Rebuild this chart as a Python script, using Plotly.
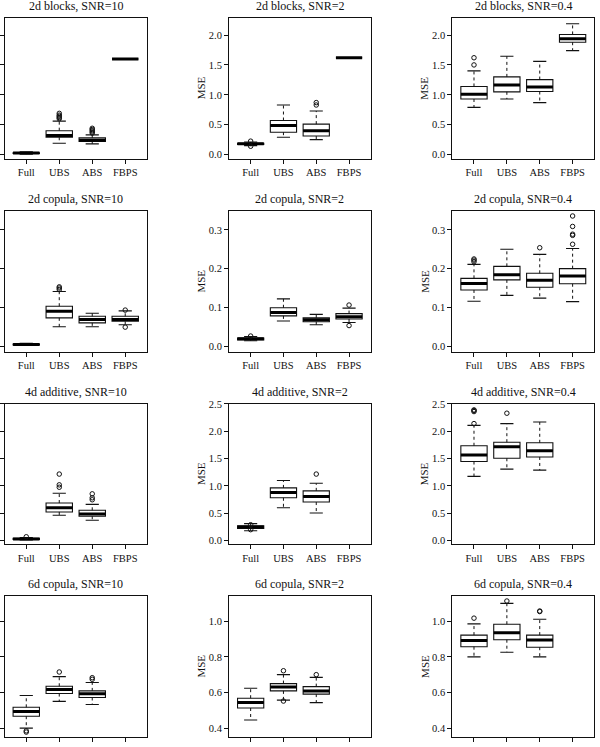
import plotly.graph_objects as go

methods = ["Full", "UBS", "ABS", "FBPS"]

# Five-number summaries per method: [lower whisker, Q1, median, Q3, upper whisker]; None = no data
blocks_10 = [[0.008, 0.018, 0.025, 0.032, 0.045],
             [0.19, 0.29, 0.32, 0.40, 0.56],
             [0.18, 0.22, 0.24, 0.28, 0.33],
             [1.60, 1.60, 1.60, 1.60, 1.60]]
blocks_10_out = [[], [0.60, 0.62, 0.64, 0.66, 0.69], [0.36, 0.38, 0.40, 0.42, 0.44], []]

blocks_2 = [[0.15, 0.17, 0.18, 0.19, 0.21],
            [0.29, 0.375, 0.485, 0.57, 0.83],
            [0.25, 0.31, 0.40, 0.51, 0.73],
            [1.62, 1.62, 1.62, 1.62, 1.62]]
blocks_2_out = [[0.225, 0.14], [], [0.83, 0.87], []]

blocks_04 = [[0.79, 0.93, 1.01, 1.14, 1.40],
             [0.93, 1.05, 1.165, 1.30, 1.645],
             [0.87, 1.055, 1.13, 1.255, 1.56],
             [1.74, 1.88, 1.94, 2.01, 2.19]]
blocks_04_out = [[1.50, 1.62], [], [], []]

copula2d_10 = [[0.002, 0.003, 0.004, 0.005, 0.007],
               [0.050, 0.073, 0.090, 0.103, 0.141],
               [0.050, 0.060, 0.069, 0.077, 0.085],
               [0.055, 0.064, 0.069, 0.077, 0.091]]
copula2d_10_out = [[], [0.146, 0.150, 0.153], [], [0.093, 0.049]]

copula2d_2 = [[0.014, 0.016, 0.019, 0.021, 0.025],
              [0.065, 0.078, 0.087, 0.099, 0.122],
              [0.055, 0.063, 0.068, 0.073, 0.082],
              [0.061, 0.070, 0.076, 0.084, 0.098]]
copula2d_2_out = [[0.026], [], [], [0.106, 0.053]]

copula2d_04 = [[0.116, 0.145, 0.162, 0.175, 0.211],
               [0.131, 0.171, 0.184, 0.206, 0.250],
               [0.124, 0.152, 0.170, 0.188, 0.237],
               [0.115, 0.161, 0.181, 0.200, 0.252]]
copula2d_04_out = [[0.218, 0.222, 0.225], [], [0.254], [0.263, 0.286, 0.289, 0.309, 0.336]]

additive_10 = [[0.012, 0.020, 0.030, 0.040, 0.054],
               [0.464, 0.524, 0.602, 0.687, 0.867],
               [0.373, 0.446, 0.488, 0.554, 0.663],
               None]
additive_10_out = [[0.07], [0.976, 1.02, 1.217], [0.747, 0.783, 0.855], []]

additive_2 = [[0.18, 0.22, 0.247, 0.27, 0.31],
              [0.60, 0.783, 0.88, 0.964, 1.10],
              [0.506, 0.705, 0.807, 0.91, 1.048],
              None]
additive_2_out = [[0.29, 0.20], [], [1.217], []]

additive_04 = [[1.175, 1.446, 1.566, 1.735, 2.108],
               [1.307, 1.506, 1.717, 1.80, 2.139],
               [1.289, 1.53, 1.645, 1.789, 2.169],
               None]
additive_04_out = [[2.14, 2.36, 2.38, 2.39], [2.33], [], []]

copula6d_10 = [[0.40, 0.467, 0.493, 0.517, 0.583],
               [0.55, 0.594, 0.617, 0.635, 0.689],
               [0.533, 0.572, 0.593, 0.609, 0.656],
               None]
copula6d_10_out = [[0.385, 0.378], [0.715], [0.674, 0.683], []]

copula6d_2 = [[0.446, 0.513, 0.544, 0.568, 0.624],
              [0.557, 0.609, 0.631, 0.65, 0.70],
              [0.543, 0.591, 0.609, 0.633, 0.685],
              None]
copula6d_2_out = [[], [0.722, 0.552], [0.70], []]

copula6d_04 = [[0.80, 0.857, 0.891, 0.922, 0.985],
               [0.826, 0.896, 0.935, 0.983, 1.10],
               [0.80, 0.854, 0.894, 0.922, 1.011],
               None]
copula6d_04_out = [[1.017], [1.113], [1.054, 1.057], []]

titles = ["2d blocks, SNR=10", "2d blocks, SNR=2", "2d blocks, SNR=0.4",
          "2d copula, SNR=10", "2d copula, SNR=2", "2d copula, SNR=0.4",
          "4d additive, SNR=10", "4d additive, SNR=2", "4d additive, SNR=0.4",
          "6d copula, SNR=10", "6d copula, SNR=2", "6d copula, SNR=0.4"]

row_ranges = [[-0.066, 2.282], [-0.0145, 0.348], [-0.066, 2.50], [0.35, 1.1406]]
row_ticks = [[0, 0.5, 1.0, 1.5, 2.0], [0.0, 0.1, 0.2, 0.3],
             [0, 0.5, 1.0, 1.5, 2.0, 2.5], [0.4, 0.6, 0.8, 1.0]]

panels = [(blocks_10, blocks_10_out), (blocks_2, blocks_2_out), (blocks_04, blocks_04_out),
          (copula2d_10, copula2d_10_out), (copula2d_2, copula2d_2_out), (copula2d_04, copula2d_04_out),
          (additive_10, additive_10_out), (additive_2, additive_2_out), (additive_04, additive_04_out),
          (copula6d_10, copula6d_10_out), (copula6d_2, copula6d_2_out), (copula6d_04, copula6d_04_out)]

W, H = 600, 747
col_px = [(4.5, 147.0), (229.0, 370.7), (452.3, 594.3)]
row_px = [(13.3, 155.0), (208.3, 350.0), (402.7, 544.3), (596.7, 739.0)]

FONT = "Liberation Serif"
INK = "#111111"
BOXW = 0.8

fig = go.Figure()
annotations = []
layout_axes = {}

for k, (stats, outs) in enumerate(panels):
    r, c = divmod(k, 3)
    xs = "x" if k == 0 else f"x{k+1}"
    ys = "y" if k == 0 else f"y{k+1}"
    xl = "xaxis" if k == 0 else f"xaxis{k+1}"
    yl = "yaxis" if k == 0 else f"yaxis{k+1}"
    x0, x1 = col_px[c]
    t, b = row_px[r]

    pos = [i + 1 for i, s in enumerate(stats) if s is not None]
    ss = [s for s in stats if s is not None]

    fig.add_trace(go.Box(
        x=pos, q1=[s[1] for s in ss], median=[s[2] for s in ss], q3=[s[3] for s in ss],
        lowerfence=[s[1] for s in ss], upperfence=[s[3] for s in ss],
        width=BOXW, whiskerwidth=0, boxpoints=False,
        line=dict(color=INK, width=1.1), fillcolor="white",
        xaxis=xs, yaxis=ys, showlegend=False, hoverinfo="skip"))

    wx, wy, cx, cy, mx, my = [], [], [], [], [], []
    for p, s in zip(pos, ss):
        lo, q1, med, q3, hi = s
        wx += [p, p, None, p, p, None]
        wy += [q3, hi, None, q1, lo, None]
        cx += [p - BOXW / 4, p + BOXW / 4, None, p - BOXW / 4, p + BOXW / 4, None]
        cy += [hi, hi, None, lo, lo, None]
        mx += [p - BOXW / 2, p + BOXW / 2, None]
        my += [med, med, None]
    fig.add_trace(go.Scatter(x=wx, y=wy, mode="lines", xaxis=xs, yaxis=ys,
                             line=dict(color=INK, width=1, dash="3px,3px"),
                             showlegend=False, hoverinfo="skip"))
    fig.add_trace(go.Scatter(x=cx, y=cy, mode="lines", xaxis=xs, yaxis=ys,
                             line=dict(color=INK, width=1.1),
                             showlegend=False, hoverinfo="skip"))
    fig.add_trace(go.Scatter(x=mx, y=my, mode="lines", xaxis=xs, yaxis=ys,
                             line=dict(color="black", width=3),
                             showlegend=False, hoverinfo="skip"))
    ox, oy = [], []
    for i, o in enumerate(outs):
        ox += [i + 1] * len(o)
        oy += o
    if ox:
        fig.add_trace(go.Scatter(x=ox, y=oy, mode="markers", xaxis=xs, yaxis=ys,
                                 marker=dict(symbol="circle-open", size=4.5, color=INK,
                                             line=dict(width=1, color=INK)),
                                 showlegend=False, hoverinfo="skip"))

    layout_axes[xl] = dict(
        domain=[x0 / W, x1 / W], anchor=ys, type="linear", range=[0.34, 4.66],
        tickvals=[1, 2, 3, 4], ticktext=methods, ticks="outside", ticklen=4,
        tickcolor=INK, showticklabels=(r < 3), showgrid=False, zeroline=False,
        showline=True, linecolor=INK, linewidth=1, mirror=True,
        tickfont=dict(family=FONT, size=10.5, color=INK), fixedrange=True)
    layout_axes[yl] = dict(
        domain=[1 - b / H, 1 - t / H], anchor=xs, range=row_ranges[r],
        tickvals=row_ticks[r], tickformat=".1f", ticks="outside", ticklen=4,
        tickcolor=INK, showticklabels=(c > 0), showgrid=False, zeroline=False,
        showline=True, linecolor=INK, linewidth=1, mirror=True,
        tickfont=dict(family=FONT, size=10.5, color=INK), fixedrange=True)

    annotations.append(dict(
        text=titles[k], xref="paper", yref="paper", x=(x0 + x1) / 2 / W,
        y=1 - (t - 12) / H, xanchor="center", yanchor="middle", showarrow=False,
        font=dict(family=FONT, size=12, color=INK)))
    if c > 0:
        annotations.append(dict(
            text="MSE", xref="paper", yref="paper", x=(x0 - 28) / W,
            y=1 - (t + b) / 2 / H, xanchor="center", yanchor="middle", textangle=-90,
            showarrow=False, font=dict(family=FONT, size=11, color=INK)))

fig.update_layout(
    width=W, height=H, margin=dict(l=0, r=0, t=0, b=0),
    paper_bgcolor="white", plot_bgcolor="white", showlegend=False,
    annotations=annotations, **layout_axes)

fig.write_html("out.html", config={"displayModeBar": False})
